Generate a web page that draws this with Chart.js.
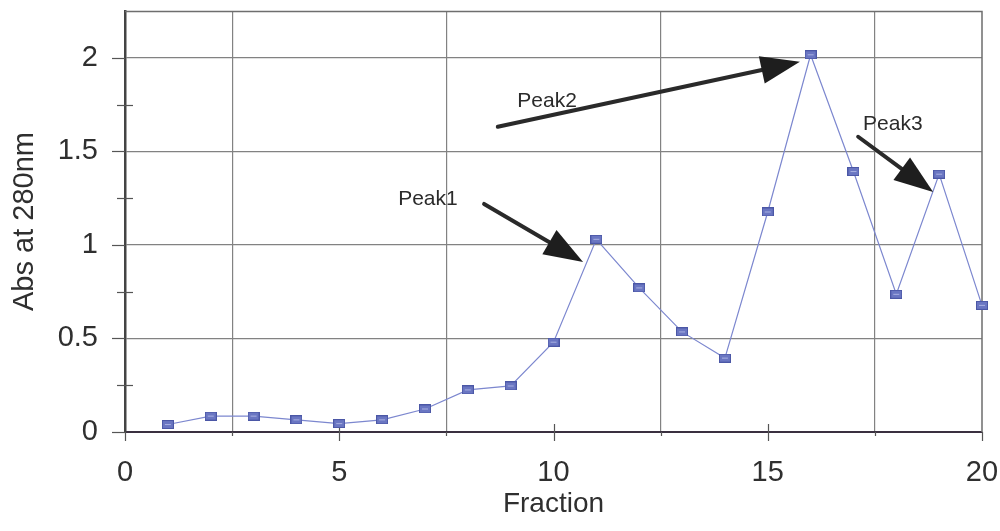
<!DOCTYPE html>
<html>
<head>
<meta charset="utf-8">
<title>Abs at 280nm by fraction</title>
<script src="https://cdn.jsdelivr.net/npm/chart.js@4/dist/chart.umd.min.js"></script>
<style>
  html, body { margin: 0; padding: 0; background: #fff; }
  #wrap { width: 1000px; height: 531px; position: relative; }
</style>
</head>
<body>
<div id="wrap"><canvas id="chart" width="1000" height="531"></canvas></div>
<script>
// Elution profile: absorbance at 280 nm for each collected fraction
const fractions = [1, 2, 3, 4, 5, 6, 7, 8, 9, 10, 11, 12, 13, 14, 15, 16, 17, 18, 19, 20];
const absorbance = [0.04, 0.085, 0.085, 0.065, 0.045, 0.065, 0.123, 0.225, 0.246, 0.48,
                    1.03, 0.77, 0.535, 0.395, 1.176, 2.016, 1.392, 0.736, 1.378, 0.677];

// Labelled ticks
const xTickLabels = [0, 5, 10, 15, 20];
const yTickLabels = [0, 0.5, 1, 1.5, 2];

// Peak call-outs: text anchor and arrow start / tip, in data units
const peakNames = ['Peak1', 'Peak2', 'Peak3'];
const peakTextAt = [[7.07, 1.246], [9.85, 1.77], [17.92, 1.647]];
const peakArrowFrom = [[8.38, 1.219], [8.70, 1.631], [17.11, 1.578]];
const peakArrowTo = [[10.69, 0.909], [15.75, 1.979], [18.86, 1.283]];

const FONT = '"Liberation Sans", Arial, sans-serif';

// Small rectangular marker
function makeMarker() {
  const c = document.createElement('canvas');
  c.width = 12; c.height = 9;
  const g = c.getContext('2d');
  g.fillStyle = '#6a76c2';
  g.fillRect(0.5, 0.5, 11, 8);
  g.strokeStyle = '#4b57a6';
  g.lineWidth = 1;
  g.strokeRect(0.5, 0.5, 11, 8);
  g.fillStyle = '#a9b1e2';
  g.fillRect(3, 4, 6, 1);
  return c;
}

const points = fractions.map((f, i) => ({ x: f, y: absorbance[i] }));

const frameAndTicks = {
  id: 'frameAndTicks',
  beforeDatasetsDraw(chart) {
    const { ctx, chartArea: a, scales } = chart;
    const xs = scales.x, ys = scales.y;
    ctx.save();
    // top and right frame
    ctx.strokeStyle = '#6e6e6e';
    ctx.lineWidth = 1.5;
    ctx.beginPath();
    ctx.moveTo(a.left, a.top + 0.5);
    ctx.lineTo(a.right, a.top + 0.5);
    ctx.lineTo(a.right, a.bottom);
    ctx.stroke();
    // y tick marks: labelled ones outside, intermediate ones crossing the axis
    ctx.strokeStyle = '#555';
    ctx.lineWidth = 1.2;
    for (let v = 0; v <= 2 + 1e-9; v += 0.25) {
      const y = Math.round(ys.getPixelForValue(v)) + 0.5;
      const major = Math.abs(v * 2 - Math.round(v * 2)) < 1e-9;
      ctx.beginPath();
      if (major) { ctx.moveTo(a.left - 13, y); ctx.lineTo(a.left, y); }
      else { ctx.moveTo(a.left - 8, y); ctx.lineTo(a.left + 8, y); }
      ctx.stroke();
    }
    // x tick marks
    for (let v = 0; v <= 20 + 1e-9; v += 2.5) {
      const x = Math.round(xs.getPixelForValue(v)) + 0.5;
      const labelled = v % 5 === 0;
      ctx.beginPath();
      if (labelled) {
        ctx.moveTo(x, (v === 0 || v === 20) ? a.bottom : a.bottom - 8);
        ctx.lineTo(x, a.bottom + 9);
      } else {
        ctx.moveTo(x, a.bottom);
        ctx.lineTo(x, a.bottom + 4);
      }
      ctx.stroke();
    }
    ctx.restore();
  },
  afterDatasetsDraw(chart) {
    const { ctx, scales } = chart;
    const xs = scales.x, ys = scales.y;
    const px = p => [xs.getPixelForValue(p[0]), ys.getPixelForValue(p[1])];
    ctx.save();
    peakNames.forEach((name, i) => {
      const [tx, ty] = px(peakTextAt[i]);
      ctx.fillStyle = '#2b2b2b';
      ctx.font = '21px ' + FONT;
      ctx.textAlign = 'center';
      ctx.textBaseline = 'middle';
      ctx.fillText(name, tx, ty);

      const [x0, y0] = px(peakArrowFrom[i]);
      const [x1, y1] = px(peakArrowTo[i]);
      const ang = Math.atan2(y1 - y0, x1 - x0);
      const headLen = 39, headHalf = 14;
      const bx = x1 - headLen * Math.cos(ang), by = y1 - headLen * Math.sin(ang);
      ctx.strokeStyle = '#2a2a2a';
      ctx.lineWidth = 4;
      ctx.lineCap = 'round';
      ctx.beginPath();
      ctx.moveTo(x0, y0);
      ctx.lineTo(bx, by);
      ctx.stroke();
      ctx.fillStyle = '#1e1e1e';
      ctx.beginPath();
      ctx.moveTo(x1, y1);
      ctx.lineTo(bx + headHalf * Math.sin(ang), by - headHalf * Math.cos(ang));
      ctx.lineTo(bx - headHalf * Math.sin(ang), by + headHalf * Math.cos(ang));
      ctx.closePath();
      ctx.fill();
    });
    ctx.restore();
  }
};

new Chart(document.getElementById('chart'), {
  type: 'line',
  data: {
    datasets: [{
      data: points,
      borderColor: '#7c87cf',
      borderWidth: 1.2,
      pointStyle: makeMarker(),
      pointRadius: 6,
      tension: 0,
      fill: false,
      clip: false
    }]
  },
  options: {
    responsive: false,
    animation: false,
    events: [],
    layout: { padding: { left: 0, right: 18, top: 11, bottom: 0 } },
    plugins: { legend: { display: false }, tooltip: { enabled: false } },
    scales: {
      x: {
        type: 'linear',
        min: 0, max: 20,
        afterFit(s) { s.height = 99; s.paddingLeft = 0; s.paddingRight = 0; },
        ticks: {
          stepSize: 2.5,
          autoSkip: false,
          maxRotation: 0,
          padding: 24,
          color: '#2f2f2f',
          font: { family: FONT, size: 29 },
          callback: v => xTickLabels.includes(v) ? String(v) : ''
        },
        grid: {
          drawTicks: false,
          lineWidth: 1.2,
          color: c => (c.tick && c.tick.value % 5 !== 0) ? '#828282' : 'rgba(0,0,0,0)'
        },
        border: { display: true, color: '#3a3040', width: 2 },
        title: {
          display: true,
          text: 'Fraction',
          color: '#2f2f2f',
          font: { family: FONT, size: 28 },
          padding: { top: 0, bottom: 10 }
        }
      },
      y: {
        type: 'linear',
        min: 0, max: 2.25,
        afterFit(s) { s.width = 125; s.paddingTop = 0; s.paddingBottom = 0; },
        ticks: {
          stepSize: 0.25,
          autoSkip: false,
          padding: 27,
          color: '#2f2f2f',
          font: { family: FONT, size: 29 },
          callback: v => yTickLabels.includes(v) ? String(v) : ''
        },
        grid: {
          drawTicks: false,
          lineWidth: 1.2,
          color: c => (c.tick && c.tick.value > 0 && yTickLabels.includes(c.tick.value)) ? '#828282' : 'rgba(0,0,0,0)'
        },
        border: { display: true, color: '#444', width: 2.5 },
        title: {
          display: true,
          text: 'Abs at 280nm',
          color: '#2f2f2f',
          font: { family: FONT, size: 29 },
          padding: { top: 8, bottom: 0 }
        }
      }
    }
  },
  plugins: [frameAndTicks]
});
</script>
</body>
</html>
